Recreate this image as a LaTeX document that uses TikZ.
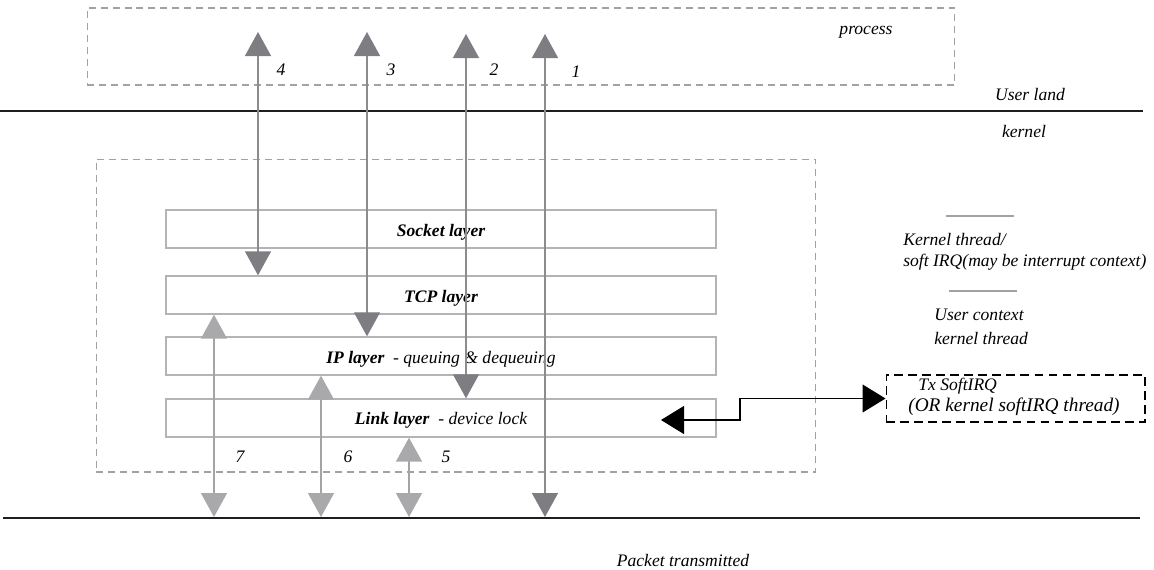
\documentclass[tikz,border=0pt]{standalone}
\usepackage{fontspec}
\setmainfont{Liberation Serif}
\usetikzlibrary{arrows.meta, positioning}

\definecolor{boxgray}{HTML}{B4B4B4}
\definecolor{dashgray}{HTML}{A2A2A2}
\definecolor{tipdark}{HTML}{7D7D82}
\definecolor{tiplight}{HTML}{A9A9AB}
\definecolor{shaftdark}{HTML}{8C8C8C}
\definecolor{shaftlight}{HTML}{A4A4A4}
\definecolor{rule}{HTML}{1E1E1E}

\tikzset{
  tipd/.tip={Triangle[width=0.52cm, length=0.48cm, color=tipdark]},
  tipl/.tip={Triangle[width=0.52cm, length=0.48cm, color=tiplight]},
  tipb/.tip={Triangle[width=0.56cm, length=0.46cm, color=black]}
}

\begin{document}
\begin{tikzpicture}[x=0.02cm, y=-0.02cm, node distance=1.26cm, on grid, font=\itshape,
           layer/.style={draw=boxgray, line width=0.8pt, minimum width=11cm, minimum height=0.76cm, inner sep=0pt, text height=8pt, text depth=0pt},
           region/.style={draw=dashgray, line width=0.6pt, dash pattern=on 4pt off 2.8pt, inner sep=0pt},
           txbox/.style={draw=black, line width=0.6pt, dash pattern=on 5pt off 3pt, minimum width=5.18cm, minimum height=0.94cm, inner sep=0pt},
           txt/.style={inner sep=0pt},
           updark/.style={shaftdark, line width=0.8pt, tipd-tipd},
           uplight/.style={shaftlight, line width=0.8pt, tipl-tipl},
           link/.style={draw=black, line width=0.6pt, tipb-tipb}]
           \useasboundingbox (0,0) rectangle (1154,569);

           \node[region, minimum width=17.36cm, minimum height=1.54cm] (proc) at (521,46.5) {};
           \node[region, minimum width=14.4cm, minimum height=6.26cm] (kern) at (456,315.5) {};
           \node[txt] at (866,32) {process};
           \node[txt] at (1030,94) {User land};
           \node[txt] at (1024,131) {kernel};
           \draw[rule, line width=0.8pt] (0,111) -- (1143,111);
           \draw[rule, line width=0.8pt] (3,518) -- (1140,518);

           \node[layer] (l_sock) at (441,229) {\bfseries Socket layer};
           \node[layer] (l_tcp) [below=1.32cm of l_sock] {\bfseries TCP layer};
           \node[layer] (l_ip) [below=1.22cm of l_tcp] {\textbf{IP layer}~~- queuing \& dequeuing};
           \node[layer] (l_link) [below=1.24cm of l_ip] {\textbf{Link layer}~~- device lock};

           \coordinate (c_4) at (258,32);
           \coordinate (c_3) at (367,32);
           \coordinate (c_2) at (466,34);
           \coordinate (c_1) at (545,34);
           \coordinate (c_7) at (214,517);
           \coordinate (c_6) at (321,517);
           \coordinate (c_5) at (409,517);
           \coordinate (c_tx) at (661,420);

           \path[updark]
            (c_4) edge (c_4 |- l_tcp.north)
            (c_3) edge (c_3 |- l_ip.north)
            (c_2) edge (c_2 |- l_link.north)
            (c_1) edge (c_1 |- c_7);
           \path[uplight]
            (c_7) edge (c_7 |- l_tcp.south)
            (c_6) edge (c_6 |- l_ip.south)
            (c_5) edge (c_5 |- l_link.south);

           \node[txt] at (281,70) {4};
           \node[txt] at (391,70) {3};
           \node[txt] at (494,70) {2};
           \node[txt] at (576,72) {1};
           \node[txt] at (240,457) {7};
           \node[txt] at (348,457) {6};
           \node[txt] at (446,457) {5};

           \node[txbox] (tx) at (1015.5,398.5) {};
           \node[txt, anchor=west] at (918,386) {Tx SoftIRQ};
           \node[txt, anchor=west, font=\fontsize{11}{13}\itshape] at (908,407) {(OR kernel softIRQ thread)};
           \draw[link] (c_tx) -- ++(79,0) |- (tx.west);

           \draw[dashgray, line width=0.6pt] (946,216) -- (1014,216);
           \node[txt, anchor=west] at (903,239) {Kernel thread/};
           \node[txt, anchor=west] at (903,262) {soft IRQ(may be interrupt context)};
           \draw[dashgray, line width=0.6pt] (949,291) -- (1017,291);
           \node[txt, anchor=west] at (934,315) {User context};
           \node[txt, anchor=west] at (934,338) {kernel thread};

           \node[txt] at (683,560) {Packet transmitted};
        \end{tikzpicture}
\end{document}
